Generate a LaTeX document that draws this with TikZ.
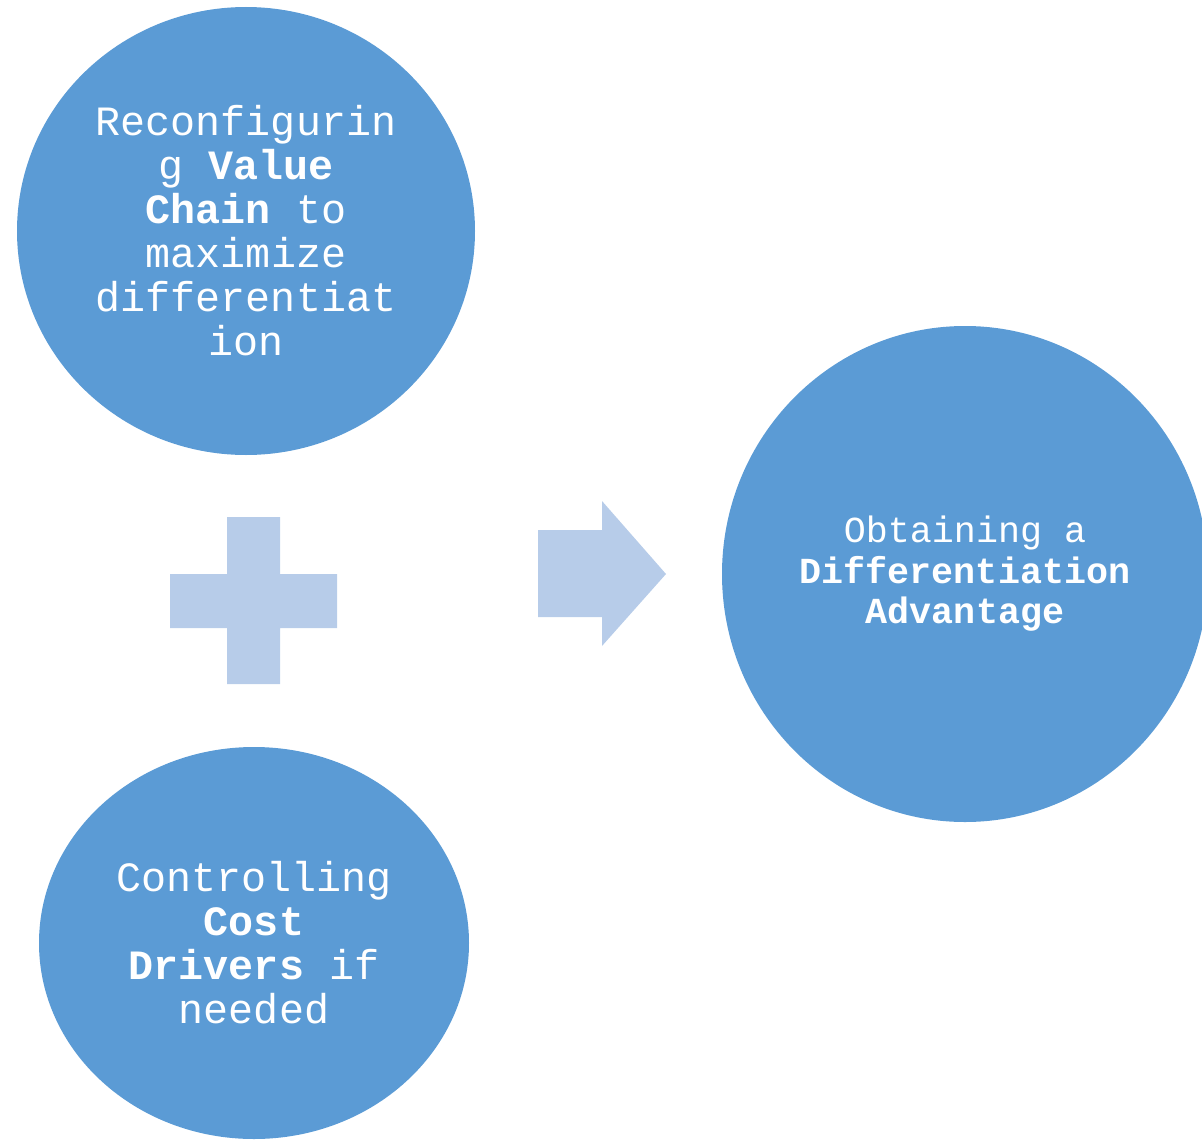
\documentclass[tikz,border=0pt]{standalone}
\usepackage{fontspec}
\setmainfont{Liberation Mono}
\usetikzlibrary{shapes.geometric}
\definecolor{circblue}{HTML}{5B9BD5}
\definecolor{lightblue}{HTML}{B7CCE9}
\tikzset{
  bubble/.style={ellipse, fill=circblue, draw=none, inner sep=0pt, text=white, align=center},
  bigtext/.style={font={\fontsize{41.7}{44}\selectfont}},
  smalltext/.style={font={\fontsize{36.7}{40.5}\selectfont}},
  symbolfill/.style={fill=lightblue, draw=none}
}
\begin{document}
\begin{tikzpicture}[x=1pt,y=-1pt]
\useasboundingbox (0,0) rectangle (1202,1140);
\node[bubble, bigtext, minimum width=458pt, minimum height=448pt] (top) at (246,231)
  {Reconfigurin\\g \textbf{Value}\\\textbf{Chain} to\\maximize\\differentiat\\ion};
\node[bubble, bigtext, minimum width=430pt, minimum height=392pt] (bottom) at (254,943)
  {Controlling\\\textbf{Cost}\\\textbf{Drivers} if\\needed};
\node[bubble, smalltext, minimum width=486pt, minimum height=496pt] (result) at (965,574)
  {Obtaining a\\\textbf{Differentiation}\\\textbf{Advantage}};
% plus sign
\coordinate (pluscenter) at (253.5,601);
\fill[symbolfill] (227,517) -- (280,517) -- (280,574) -- (337,574) -- (337,628) -- (280,628)
  -- (280,684) -- (227,684) -- (227,628) -- (170,628) -- (170,574) -- (227,574) -- cycle;
% arrow
\coordinate (arrowtip) at (666,574);
\fill[symbolfill] (538,530) -- (602,530) -- (602,501) -- (arrowtip) -- (602,646) -- (602,617)
  -- (538,617) -- cycle;
\end{tikzpicture}
\end{document}
